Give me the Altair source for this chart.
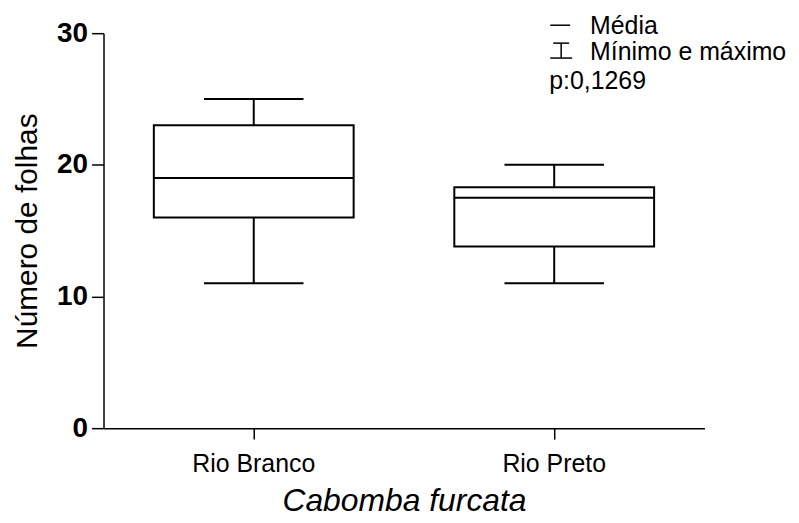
import altair as alt
import pandas as pd

categories = ["Rio Branco", "Rio Preto"]
mins = [11, 11]
q1s = [16, 13.8]
medians = [19, 17.5]
q3s = [23, 18.3]
maxs = [25, 20]

df = pd.DataFrame({"cat": categories, "min": mins, "q1": q1s, "median": medians,
                   "q3": q3s, "max": maxs})

FONT = "Liberation Sans"

x = alt.X("cat:N", sort=categories,
          scale=alt.Scale(type="band", paddingInner=0, paddingOuter=0),
          axis=alt.Axis(title="Cabomba furcata", labelAngle=0, labelFontSize=25,
                        labelFont=FONT, labelColor="black", labelPadding=13,
                        titleFont=FONT, titleFontSize=32, titleFontStyle="italic",
                        titleFontWeight="normal", titleColor="black", titlePadding=9,
                        tickSize=11, tickColor="black", domainColor="black",
                        tickWidth=1.5, domainWidth=1.5, grid=False))

yscale = alt.Scale(domain=[0, 30], nice=False, zero=True)
yaxis = alt.Axis(title="Número de folhas", values=[0, 10, 20, 30], tickSize=12,
                 labelFont=FONT, labelFontSize=28, labelFontWeight="bold",
                 labelColor="black", labelPadding=4, titleFont=FONT, titleFontSize=30,
                 titleFontWeight="normal", titleColor="black", titlePadding=14,
                 tickColor="black", domainColor="black", tickWidth=1.5,
                 domainWidth=1.5, grid=False)

base = alt.Chart(df)

whisk_lo = base.mark_rule(color="black", strokeWidth=2).encode(
    x=x, y=alt.Y("min:Q", scale=yscale, axis=yaxis), y2="q1:Q")
whisk_hi = base.mark_rule(color="black", strokeWidth=2).encode(
    x=x, y=alt.Y("q3:Q", scale=yscale, axis=yaxis), y2="max:Q")
box = base.mark_bar(fill="white", stroke="black", strokeWidth=2,
                    width=alt.RelativeBandSize(0.665)).encode(
    x=x, y=alt.Y("q1:Q", scale=yscale, axis=yaxis), y2="q3:Q")
med = base.mark_tick(color="black", thickness=2, size=201, opacity=1).encode(
    x=x, y=alt.Y("median:Q", scale=yscale, axis=yaxis))
cap_lo = base.mark_tick(color="black", thickness=2, size=100, opacity=1).encode(
    x=x, y=alt.Y("min:Q", scale=yscale, axis=yaxis))
cap_hi = base.mark_tick(color="black", thickness=2, size=100, opacity=1).encode(
    x=x, y=alt.Y("max:Q", scale=yscale, axis=yaxis))

# legend annotations (pixel positions in plot area)
ann = alt.Chart(pd.DataFrame({"a": [0]}))
leg_line = ann.mark_rule(color="black", strokeWidth=1.5).encode(
    x=alt.value(449), x2=alt.value(469), y=alt.value(-8))
leg_v = ann.mark_rule(color="black", strokeWidth=1.5).encode(
    x=alt.value(460), y=alt.value(10), y2=alt.value(25))
leg_c1 = ann.mark_rule(color="black", strokeWidth=1.5).encode(
    x=alt.value(452), x2=alt.value(468), y=alt.value(10))
leg_c2 = ann.mark_rule(color="black", strokeWidth=1.5).encode(
    x=alt.value(449), x2=alt.value(471), y=alt.value(25))
t1 = ann.mark_text(align="left", baseline="alphabetic", font=FONT, fontSize=25,
                   color="black", text="Média").encode(x=alt.value(489), y=alt.value(1))
t2 = ann.mark_text(align="left", baseline="alphabetic", font=FONT, fontSize=25,
                   color="black", text="Mínimo e máximo").encode(x=alt.value(489), y=alt.value(27))
t3 = ann.mark_text(align="left", baseline="alphabetic", font=FONT, fontSize=25,
                   color="black", text="p:0,1269").encode(x=alt.value(448), y=alt.value(56))

chart = alt.layer(whisk_lo, whisk_hi, box, med, cap_lo, cap_hi,
                  leg_line, leg_v, leg_c1, leg_c2, t1, t2, t3).properties(
    width=604, height=397,
    autosize=alt.AutoSizeParams(type="none"),
    padding={"left": 96, "top": 24, "right": 87, "bottom": 92},
).configure_view(strokeWidth=0)

chart.save("out.html", embed_options={"renderer": "svg", "actions": False})
